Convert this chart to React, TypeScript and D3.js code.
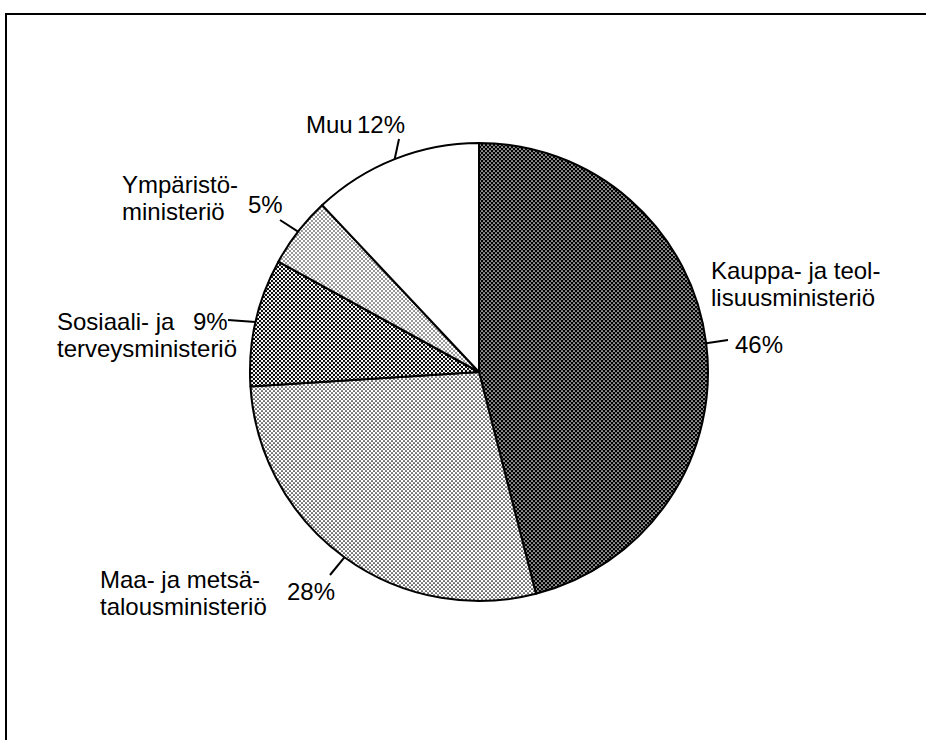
import React from 'react';
import * as d3 from 'd3';

const width = 926;
const height = 740;

// shares in percent, clockwise from 12 o'clock
const ministries = ['Kauppa- ja teollisuusministeriö', 'Maa- ja metsätalousministeriö', 'Sosiaali- ja terveysministeriö', 'Ympäristöministeriö', 'Muu'];
const shares = [46, 28, 9, 5, 12];
const shareLabels = ['46%', '28%', '9%', '5%', '12%'];

// label lines as printed
const nameLines = [
  ['Kauppa- ja teol-', 'lisuusministeriö'],
  ['Maa- ja metsä-', 'talousministeriö'],
  ['Sosiaali- ja', 'terveysministeriö'],
  ['Ympäristö-', 'ministeriö'],
  ['Muu'],
];

const cx = 479;
const cy = 372;
const r = 229;

// layout of each label: name block position, percent position, leader end
const layout = [
  { nx: 711, ny: 279, px: 735, py: 353, lx: 728, ly: 340 },
  { nx: 100, ny: 588, px: 287, py: 600, lx: 330, ly: 575 },
  { nx: 57, ny: 330, px: 193, py: 330, lx: 228, ly: 320 },
  { nx: 122, ny: 193, px: 248, py: 213, lx: 280, ly: 220 },
  { nx: 306, ny: 133, px: 357, py: 133, lx: 399, ly: 139 },
];

const fills = ['url(#pKauppa)', 'url(#pMaa)', 'url(#pSos)', 'url(#pYmp)', '#fff'];

const App: React.FC = () => {
  const pie = d3.pie<number>().sort(null).value(d => d)(shares);
  const arc = d3.arc<d3.PieArcDatum<number>>().innerRadius(0).outerRadius(r);
  const font = { fontFamily: '"Liberation Sans", Arial, sans-serif', fontSize: 24 };

  return (
    <div style={{ position: 'absolute', top: 0, left: 0 }}>
      <svg width={width} height={height} style={{ display: 'block', background: '#fff' }}>
        <defs>
          <pattern id="pKauppa" width={4} height={4} patternUnits="userSpaceOnUse">
            <rect width={4} height={4} fill="#000" />
            <circle cx={1} cy={1} r={0.85} fill="#fff" />
            <circle cx={3} cy={3} r={0.85} fill="#fff" />
          </pattern>
          <pattern id="pMaa" width={4} height={4} patternUnits="userSpaceOnUse">
            <rect width={4} height={4} fill="#fff" />
            <circle cx={1} cy={1} r={0.85} fill="#000" />
            <circle cx={3} cy={3} r={0.85} fill="#000" />
          </pattern>
          <pattern id="pSos" width={4} height={4} patternUnits="userSpaceOnUse">
            <rect width={4} height={4} fill="#fff" />
            <circle cx={1} cy={1} r={1.15} fill="#000" />
            <circle cx={3} cy={3} r={1.15} fill="#000" />
          </pattern>
          <pattern id="pYmp" width={4} height={4} patternUnits="userSpaceOnUse">
            <rect width={4} height={4} fill="#fff" />
            <circle cx={1} cy={1} r={0.75} fill="#000" />
            <circle cx={3} cy={3} r={0.75} fill="#000" />
          </pattern>
        </defs>

        <rect x={6} y={14} width={width + 20} height={height + 20} fill="none" stroke="#000" strokeWidth={2} />

        <g transform={`translate(${cx},${cy})`}>
          {pie.map((d, i) => (
            <path key={ministries[i]} d={arc(d) || ''} fill={fills[i]} stroke="#000" strokeWidth={2} strokeLinejoin="round" />
          ))}
        </g>

        {pie.map((d, i) => {
          const a = (d.startAngle + d.endAngle) / 2;
          const x0 = cx + r * Math.sin(a);
          const y0 = cy - r * Math.cos(a);
          const l = layout[i];
          return (
            <g key={'lab' + i} style={font}>
              <line x1={x0} y1={y0} x2={l.lx} y2={l.ly} stroke="#000" strokeWidth={2} />
              {nameLines[i].map((t, j) => (
                <text key={j} x={l.nx} y={l.ny + j * 27} fill="#000">{t}</text>
              ))}
              <text x={l.px} y={l.py} fill="#000">{shareLabels[i]}</text>
            </g>
          );
        })}
      </svg>
    </div>
  );
};

export default App;
